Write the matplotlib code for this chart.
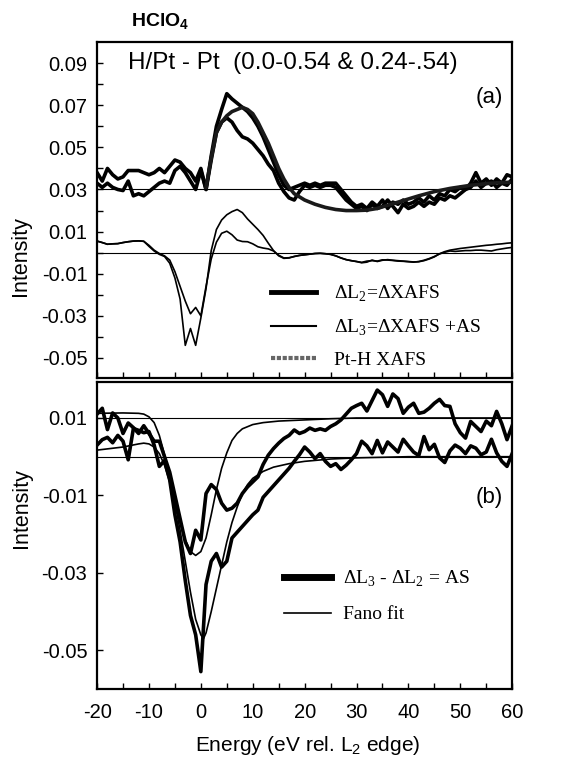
import matplotlib
matplotlib.use("Agg")
import matplotlib.pyplot as plt
from matplotlib.lines import Line2D
from matplotlib.ticker import MultipleLocator, FixedLocator
import numpy as np

plt.rcParams['font.family'] = ['Liberation Sans', 'DejaVu Sans']
plt.rcParams['axes.unicode_minus'] = False

# energy grid of the measured curves (eV rel. L2 edge)
energy = np.arange(-20, 61)

# panel (a), upper group: Delta L2 (two data sets, offset by 0.03)
dl2_a = [0.038, 0.034, 0.040, 0.037, 0.035, 0.036, 0.039, 0.039, 0.039, 0.038,
         0.037, 0.038, 0.040, 0.038, 0.041, 0.044, 0.043, 0.040, 0.038, 0.034,
         0.040, 0.030, 0.046, 0.060, 0.068, 0.0755, 0.073, 0.071, 0.069, 0.067,
         0.064, 0.060, 0.055, 0.049, 0.043, 0.037, 0.032, 0.030, 0.031, 0.032,
         0.033, 0.032, 0.033, 0.032, 0.033, 0.033, 0.033, 0.030, 0.027, 0.024,
         0.022, 0.023, 0.021, 0.024, 0.022, 0.025, 0.021, 0.024, 0.023, 0.025,
         0.023, 0.024, 0.026, 0.024, 0.027, 0.025, 0.028, 0.027, 0.030, 0.029,
         0.031, 0.030, 0.033, 0.038, 0.033, 0.035, 0.032, 0.035, 0.033, 0.037,
         0.036]
dl2_b = [0.033, 0.031, 0.033, 0.031, 0.030, 0.0295, 0.034, 0.027, 0.028, 0.027,
         0.029, 0.031, 0.033, 0.034, 0.033, 0.039, 0.041, 0.038, 0.034, 0.030,
         0.039, 0.030, 0.044, 0.057, 0.062, 0.064, 0.062, 0.058, 0.055, 0.054,
         0.052, 0.049, 0.046, 0.042, 0.039, 0.033, 0.029, 0.026, 0.025, 0.029,
         0.032, 0.031, 0.032, 0.031, 0.032, 0.032, 0.031, 0.028, 0.025, 0.023,
         0.021, 0.022, 0.020, 0.023, 0.021, 0.022, 0.025, 0.022, 0.019, 0.023,
         0.021, 0.022, 0.024, 0.022, 0.024, 0.023, 0.026, 0.025, 0.027, 0.026,
         0.028, 0.030, 0.031, 0.034, 0.031, 0.033, 0.034, 0.031, 0.033, 0.032,
         0.035]

# Pt-H XAFS (smooth theory curve)
pth_e = [1, 2, 3, 4, 5, 6, 7, 8, 9, 10, 11, 12, 13, 14, 15, 16, 17, 18, 20, 22,
         24, 26, 28, 30, 32, 34, 36, 38, 40, 42, 45, 48, 52, 56, 60]
pth = [0.031, 0.045, 0.057, 0.062, 0.065, 0.067, 0.068, 0.069, 0.068, 0.066,
       0.062, 0.057, 0.052, 0.046, 0.040, 0.035, 0.031, 0.028, 0.025, 0.023,
       0.0215, 0.0205, 0.020, 0.020, 0.0202, 0.021, 0.0225, 0.024, 0.0255, 0.027,
       0.029, 0.0305, 0.032, 0.033, 0.0335]

# panel (a), lower group: Delta L3 (two data sets)
dl3_a = [0.0055, 0.0048, 0.0040, 0.0042, 0.0043, 0.0048, 0.0052, 0.0055, 0.0056, 0.0054,
         0.0030, 0.0008, -0.0008, -0.0018, -0.0050, -0.012, -0.022, -0.044, -0.036, -0.044,
         -0.031, -0.017, 0.001, 0.011, 0.0155, 0.018, 0.0195, 0.0205, 0.019, 0.016,
         0.0135, 0.011, 0.0082, 0.0045, 0.0010, -0.0015, -0.0027, -0.0025, -0.0018, -0.0013,
         -0.0010, -0.0007, -0.0004, -0.0003, -0.0005, -0.0008, -0.0015, -0.0025, -0.0033, -0.0038,
         -0.0042, -0.0048, -0.0045, -0.0035, -0.0042, -0.0036, -0.0033, -0.0036, -0.0038, -0.0040,
         -0.0042, -0.0044, -0.0043, -0.0038, -0.0030, -0.0020, -0.0005, 0.0005, 0.0012, 0.0016,
         0.0020, 0.0023, 0.0026, 0.0029, 0.0032, 0.0035, 0.0037, 0.0040, 0.0042, 0.0045,
         0.0047]
dl3_b = [0.0055, 0.0048, 0.0040, 0.0042, 0.0043, 0.0048, 0.0052, 0.0055, 0.0056, 0.0054,
         0.0035, 0.0012, -0.0004, -0.0015, -0.0035, -0.009, -0.016, -0.023, -0.029, -0.026,
         -0.030, -0.016, -0.003, 0.005, 0.0092, 0.0102, 0.0085, 0.0060, 0.0053, 0.0052,
         0.0042, 0.0028, 0.0022, 0.0018, 0.0008, -0.0012, -0.0025, -0.0024, -0.0018, -0.0013,
         -0.0010, -0.0007, -0.0004, -0.0003, -0.0005, -0.0008, -0.0015, -0.0025, -0.0033, -0.0038,
         -0.0042, -0.0046, -0.0040, -0.0038, -0.0040, -0.0034, -0.0035, -0.0037, -0.0040, -0.0041,
         -0.0043, -0.0045, -0.0042, -0.0036, -0.0028, -0.0018, -0.0006, 0.0002, 0.0008, 0.0006,
         0.0008, 0.0010, 0.0010, 0.0012, 0.0012, 0.0010, 0.0008, 0.0014, 0.0018, 0.0022,
         0.0025]

# panel (b): AS = Delta L3 - Delta L2 (two data sets, upper one offset by 0.01)
as_a = [0.011, 0.0125, 0.007, 0.0113, 0.010, 0.006, 0.0087, 0.0075, 0.006, 0.008,
        0.006, 0.004, 0.004, 0.000, -0.004, -0.010, -0.016, -0.022, -0.025, -0.019,
        -0.0215, -0.0095, -0.0072, -0.0085, -0.012, -0.0138, -0.0133, -0.012, -0.0095, -0.0078,
        -0.0065, -0.0052, -0.002, 0.0004, 0.0021, 0.0035, 0.0047, 0.0055, 0.0069, 0.006,
        0.0065, 0.0074, 0.0068, 0.0072, 0.0068, 0.0078, 0.0085, 0.0095, 0.011, 0.0125,
        0.0132, 0.0138, 0.0118, 0.0145, 0.0172, 0.0160, 0.0130, 0.0162, 0.0150, 0.0112,
        0.0128, 0.0138, 0.0112, 0.0115, 0.0125, 0.0138, 0.0148, 0.0132, 0.0130, 0.0085,
        0.0062, 0.0048, 0.0091, 0.0078, 0.0065, 0.0092, 0.0080, 0.0117, 0.0085, 0.0044,
        0.0080]
as_b = [0.003, 0.0044, 0.005, 0.0036, 0.0055, 0.004, -0.0008, 0.0073, 0.0068, 0.0062,
        0.0065, 0.003, -0.0025, -0.001, -0.006, -0.015, -0.022, -0.032, -0.041, -0.046,
        -0.0555, -0.033, -0.027, -0.025, -0.0285, -0.027, -0.021, -0.0195, -0.018, -0.0165,
        -0.015, -0.0138, -0.0105, -0.009, -0.0075, -0.006, -0.0045, -0.003, -0.0012, 0.0005,
        0.0025, 0.0012, -0.0005, 0.0008, -0.0012, -0.0025, -0.0018, -0.0033, -0.0022, -0.0008,
        0.0008, 0.004, 0.0028, 0.0008, 0.0042, 0.001, 0.0038, 0.0025, 0.0012, 0.0045,
        0.0028, 0.0012, 0.0003, 0.0052, 0.0018, 0.0032, -0.0003, -0.0015, 0.0015, 0.003,
        0.0022, 0.0008, 0.0028, 0.0022, 0.0005, 0.0012, 0.0045, 0.001, -0.0012, -0.0025,
        0.0008]

# Fano fits
fano_a_e = [-20, -15, -12, -11, -10, -9, -8, -7, -6, -5, -4, -3, -2, -1, 0, 1, 2, 3, 4, 5,
            6, 7, 8, 10, 12, 15, 20, 25, 30, 40, 50, 60]
fano_a = [0.0112, 0.0113, 0.0112, 0.011, 0.0103, 0.0088, 0.0055, 0.0005, -0.0055, -0.0115,
          -0.017, -0.0215, -0.0245, -0.0255, -0.0245, -0.021, -0.015, -0.0085, -0.003, 0.001,
          0.0042, 0.006, 0.0072, 0.0083, 0.0088, 0.0092, 0.0095, 0.0098, 0.010, 0.010,
          0.010, 0.010]
fano_b_e = [-20, -15, -12, -11, -10, -9, -8, -7, -6, -5, -4, -3, -2, -1, 0, 0.5, 1, 2, 3, 4,
            5, 6, 7, 8, 9, 10, 12, 14, 17, 20, 25, 30, 40, 50, 60]
fano_b = [0.0017, 0.0025, 0.0033, 0.0035, 0.0033, 0.0025, 0.0008, -0.0022, -0.0065, -0.012,
          -0.019, -0.027, -0.035, -0.042, -0.046, -0.047, -0.0455, -0.040, -0.034, -0.028,
          -0.022, -0.017, -0.013, -0.0095, -0.0072, -0.0056, -0.0038, -0.0027, -0.0018, -0.0012,
          -0.0006, -0.0003, 0.0, 0.0, 0.0]

baselines_a = [0.03, 0.0]
baselines_b = [0.01, 0.0]

fig = plt.figure(figsize=(5.71, 7.65), dpi=100)
ax1 = fig.add_axes([0.170, 0.5059, 0.727, 0.4391])
ax2 = fig.add_axes([0.170, 0.0993, 0.727, 0.4014])

thick = 2.6
thin = 1.2
tick_size = 14.5

#### panel (a) ####
for b in baselines_a:
    ax1.axhline(b, color='black', lw=0.8)
ax1.plot(energy, dl3_a, color='black', lw=thin)
ax1.plot(energy, dl3_b, color='black', lw=thin)
ax1.plot(energy, dl2_a, color='black', lw=thick)
ax1.plot(energy, dl2_b, color='black', lw=thick)
ax1.plot(pth_e, pth, color='#1a1a1a', lw=thick)

ax1.set_xlim(-20, 60)
ax1.set_ylim(-0.0595, 0.1)
ax1.xaxis.set_major_locator(MultipleLocator(5))
ax1.set_xticklabels([])
ax1.yaxis.set_major_locator(FixedLocator([-0.05, -0.03, -0.01, 0.01, 0.03, 0.05, 0.07, 0.09]))
ax1.yaxis.set_minor_locator(FixedLocator([-0.04, -0.02, 0.0, 0.02, 0.04, 0.06, 0.08]))
ax1.set_yticklabels(['-0.05', '-0.03', '-0.01', '0.01', '0.03', '0.05', '0.07', '0.09'])
ax1.tick_params(axis='both', which='both', direction='in', length=4, width=1,
                labelsize=tick_size, pad=7, top=False, right=False)
ax1.set_ylabel('Intensity', fontsize=15.5)
ax1.yaxis.set_label_coords(-0.158, 0.363)

ax1.text(0.075, 0.9375, 'H/Pt - Pt  (0.0-0.54 & 0.24-.54)', transform=ax1.transAxes,
         fontsize=17.5, va='center', ha='left')
ax1.text(0.945, 0.836, '(a)', transform=ax1.transAxes, fontsize=16, va='center', ha='center')

handles_a = [Line2D([], [], color='black', lw=3.5),
             Line2D([], [], color='black', lw=1.5),
             Line2D([], [], color='#666666', lw=3, ls=(0, (1, 0.4)))]
labels_a = ['ΔL$_\\mathregular{2}$=ΔXAFS', 'ΔL$_\\mathregular{3}$=ΔXAFS +AS', 'Pt-H XAFS']
ax1.legend(handles_a, labels_a, loc='lower left', bbox_to_anchor=(0.378, -0.024),
           frameon=False, prop={'family': 'Liberation Serif', 'size': 14},
           handlelength=2.3, handletextpad=0.9, labelspacing=0.68)

#### panel (b) ####
for b in baselines_b:
    ax2.axhline(b, color='black', lw=0.8)
ax2.plot(fano_a_e, fano_a, color='black', lw=thin)
ax2.plot(fano_b_e, fano_b, color='black', lw=thin)
ax2.plot(energy, as_a, color='black', lw=thick)
ax2.plot(energy, as_b, color='black', lw=thick)

ax2.set_xlim(-20, 60)
ax2.set_ylim(-0.06, 0.0193)
ax2.xaxis.set_major_locator(MultipleLocator(10))
ax2.xaxis.set_minor_locator(MultipleLocator(5))
ax2.yaxis.set_major_locator(FixedLocator([-0.05, -0.03, -0.01, 0.01]))
ax2.set_yticklabels(['-0.05', '-0.03', '-0.01', '0.01'])
ax2.tick_params(axis='both', which='both', direction='in', length=4, width=1,
                labelsize=tick_size, pad=7, top=False, right=False)
ax2.tick_params(axis='x', which='both', pad=10)
ax2.set_ylabel('Intensity', fontsize=15.5)
ax2.yaxis.set_label_coords(-0.157, 0.59)
ax2.set_xlabel('Energy (eV rel. L$_\\mathregular{2}$ edge)', fontsize=15)
ax2.xaxis.set_label_coords(0.508, -0.145)

ax2.text(0.945, 0.625, '(b)', transform=ax2.transAxes, fontsize=16, va='center', ha='center')

handles_b = [Line2D([], [], color='black', lw=5),
             Line2D([], [], color='black', lw=1.2)]
labels_b = ['ΔL$_\\mathregular{3}$ - ΔL$_\\mathregular{2}$ = AS', 'Fano fit']
ax2.legend(handles_b, labels_b, loc='lower left', bbox_to_anchor=(0.408, 0.157),
           frameon=False, prop={'family': 'Liberation Serif', 'size': 14},
           handlelength=2.4, handletextpad=0.65, labelspacing=0.86)

for ax in (ax1, ax2):
    for s in ax.spines.values():
        s.set_linewidth(1.6)

fig.text(0.28, 0.971, 'HClO$_\\mathregular{4}$', fontsize=14, fontweight='bold',
         ha='center', va='center')

fig.savefig('out.png', dpi=100)
